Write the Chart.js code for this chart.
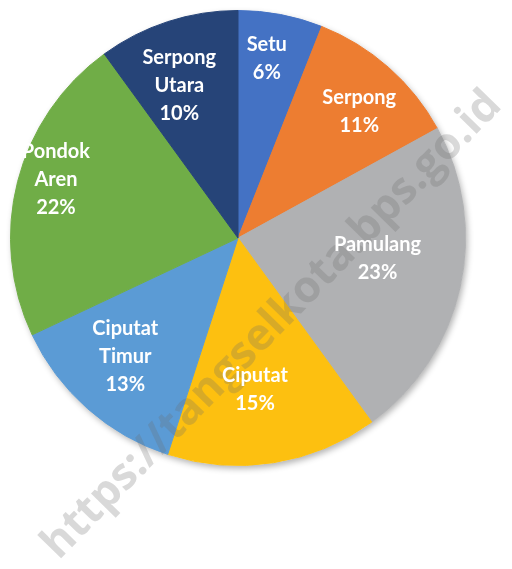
<!DOCTYPE html>
<html>
<head>
<meta charset="utf-8">
<script src="https://cdn.jsdelivr.net/npm/chart.js@4"></script>
<style>
  html, body { margin: 0; padding: 0; background: #fff; }
  #wrap { width: 512px; height: 569px; }
</style>
</head>
<body>
<div id="wrap"><canvas id="myChart"></canvas></div>
<script>
// data
const kecamatan = ['Setu', 'Serpong', 'Pamulang', 'Ciputat', 'Ciputat Timur', 'Pondok Aren', 'Serpong Utara']
const persen = [6, 11, 23, 15, 13, 22, 10]
const warna = ['#4472C4', '#ED7D31', '#B0B1B3', '#FDC010', '#5B9BD5', '#70AD47', '#264478']
// label placement: fraction of radius, angle nudge in degrees
const labelR = [0.80, 0.77, 0.62, 0.67, 0.72, 0.84, 0.72]
const labelNudge = [-1.7, 2.4, -4.1, 2.6, 2.1, 3.3, -3]

const shadowPlugin = {
  id: 'shadow',
  beforeDatasetsDraw(chart) {
    const arc = chart.getDatasetMeta(0).data[0]
    if (!arc) return
    const ctx = chart.ctx
    ctx.save()
    ctx.shadowColor = 'rgba(0,0,0,0.3)'
    ctx.shadowBlur = 6
    ctx.shadowOffsetX = 2
    ctx.shadowOffsetY = 3
    ctx.fillStyle = '#fff'
    ctx.beginPath()
    ctx.arc(arc.x, arc.y, arc.outerRadius, 0, Math.PI * 2)
    ctx.fill()
    ctx.restore()
  }
}

const labelPlugin = {
  id: 'sliceLabels',
  afterDatasetsDraw(chart) {
    const ctx = chart.ctx
    const arcs = chart.getDatasetMeta(0).data

    // watermark
    ctx.save()
    ctx.translate(272, 325)
    ctx.rotate(-45.6 * Math.PI / 180)
    ctx.font = 'bold 44px "Open Sans", sans-serif'
    ctx.fillStyle = 'rgba(110,110,110,0.26)'
    ctx.textAlign = 'center'
    ctx.textBaseline = 'middle'
    ctx.fillText('https://tangselkota.bps.go.id', 0, 0)
    ctx.restore()

    ctx.save()
    ctx.font = 'bold 20px Lato, sans-serif'
    ctx.fillStyle = '#fff'
    ctx.textAlign = 'center'
    ctx.textBaseline = 'middle'
    arcs.forEach((arc, i) => {
      const mid = (arc.startAngle + arc.endAngle) / 2 + labelNudge[i] * Math.PI / 180
      const r = arc.outerRadius * labelR[i]
      const x = arc.x + Math.cos(mid) * r
      const y = arc.y + Math.sin(mid) * r
      const lines = kecamatan[i].split(' ')
      lines.push(persen[i] + '%')
      const lh = 28
      const y0 = y - (lines.length - 1) * lh / 2
      lines.forEach((t, k) => ctx.fillText(t, x, y0 + k * lh))
    })
    ctx.restore()
  }
}

const ctx = document.getElementById('myChart')
const myChart = new Chart(ctx, {
  type: 'pie',
  data: {
    labels: kecamatan,
    datasets: [{
      data: persen,
      backgroundColor: warna,
      borderColor: warna,
      borderWidth: 1
    }]
  },
  options: {
    responsive: true,
    maintainAspectRatio: false,
    animation: false,
    layout: {
      padding: { left: 10, top: 10, right: 46, bottom: 103 }
    },
    plugins: {
      legend: { display: false },
      tooltip: { enabled: false }
    }
  },
  plugins: [shadowPlugin, labelPlugin]
})
</script>
</body>
</html>
